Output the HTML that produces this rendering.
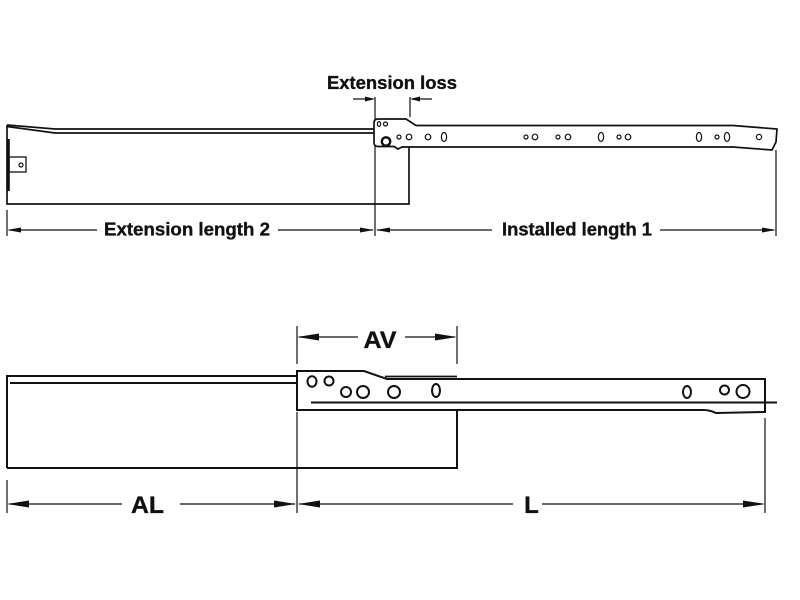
<!DOCTYPE html>
<html><head><meta charset="utf-8"><style>
html,body{margin:0;padding:0;background:#fff;}
svg{display:block;}
text{font-family:"Liberation Sans",Arial,sans-serif;font-weight:bold;fill:#111;stroke:#111;stroke-width:0.35;}
</style></head><body>
<svg width="800" height="600" viewBox="0 0 800 600" xmlns="http://www.w3.org/2000/svg">
<rect width="800" height="600" fill="#fff"/>
<!-- ===== TOP DIAGRAM ===== -->
<g stroke="#111" fill="none" stroke-width="1.2">
  <line x1="7" y1="210" x2="7" y2="236"/>
  <line x1="375" y1="97" x2="375" y2="236"/>
  <line x1="410" y1="97" x2="410" y2="117"/>
  <line x1="776" y1="150" x2="776" y2="236"/>
  <line x1="9" y1="230" x2="97" y2="230"/>
  <line x1="278" y1="230" x2="373" y2="230"/>
  <line x1="377" y1="230" x2="492" y2="230"/>
  <line x1="660" y1="230" x2="774" y2="230"/>
  <line x1="353" y1="99" x2="373" y2="99"/>
  <line x1="412" y1="99" x2="432" y2="99"/>
</g>
<g fill="#111">
  <polygon points="7,230 21,227.5 21,232.5"/>
  <polygon points="374,230 360,227.5 360,232.5"/>
  <polygon points="376,230 390,227.5 390,232.5"/>
  <polygon points="776,230 762,227.5 762,232.5"/>
  <polygon points="375,99 365,96.5 365,101.5"/>
  <polygon points="410,99 420,96.5 420,101.5"/>
</g>
<g stroke="#111" fill="none" stroke-width="1.7">
  <path d="M7,125 L7,204 L409,204 L409,146"/>
  <path d="M7,125 L55,129 L376,129"/>
  <path d="M7,126.5 L55,133 L376,133"/>
  <rect x="9" y="157" width="17" height="15" stroke-width="1.3"/>
  <circle cx="21" cy="165" r="2" stroke-width="1.2"/>
</g>
<rect x="7" y="139" width="2.8" height="52" fill="#111"/>
<path d="M378,119 L406,119 L416,125.5 L733,125.5 L777,129 L776,142 L772,150 L733,147 L402,147 L398,149 L394,146.5 L378,146.5 Q374,146.5 374,142.5 L374,123 Q374,119 378,119 Z" fill="#fff" stroke="#111" stroke-width="1.7"/>
<g stroke="#111" fill="none" stroke-width="1.2">
  <ellipse cx="379" cy="124" rx="1.6" ry="2.4"/>
  <circle cx="385.5" cy="124" r="2"/>
  <circle cx="399" cy="137" r="2"/>
  <circle cx="409" cy="137" r="2.8"/>
  <circle cx="428" cy="137" r="2.8"/>
  <ellipse cx="444" cy="137" rx="2.6" ry="4.5"/>
  <circle cx="526" cy="137" r="2"/>
  <circle cx="535" cy="137" r="2.8"/>
  <circle cx="558" cy="137" r="2"/>
  <circle cx="568" cy="137" r="2.8"/>
  <ellipse cx="601" cy="137" rx="2.6" ry="4.5"/>
  <circle cx="619" cy="137" r="2"/>
  <circle cx="628" cy="137" r="2.8"/>
  <ellipse cx="699" cy="137" rx="2.6" ry="4.5"/>
  <circle cx="717" cy="137" r="2"/>
  <ellipse cx="727" cy="137" rx="2.6" ry="4.5"/>
  <circle cx="759" cy="137" r="2.6"/>
</g>
<circle cx="386" cy="141.5" r="4.2" fill="none" stroke="#111" stroke-width="2.4"/>
<text x="392" y="89" font-size="18" text-anchor="middle" textLength="130" lengthAdjust="spacingAndGlyphs">Extension loss</text>
<text x="187" y="235.5" font-size="18" text-anchor="middle" textLength="166" lengthAdjust="spacingAndGlyphs">Extension length 2</text>
<text x="577" y="235.5" font-size="18" text-anchor="middle" textLength="150" lengthAdjust="spacingAndGlyphs">Installed length 1</text>

<!-- ===== BOTTOM DIAGRAM ===== -->
<g stroke="#111" fill="none" stroke-width="1.2">
  <line x1="297" y1="326" x2="297" y2="364"/>
  <line x1="457" y1="326" x2="457" y2="364"/>
  <line x1="297" y1="412" x2="297" y2="513"/>
  <line x1="7" y1="480" x2="7" y2="513"/>
  <line x1="765" y1="418" x2="765" y2="513"/>
  <line x1="299" y1="337" x2="358" y2="337"/>
  <line x1="405" y1="337" x2="455" y2="337"/>
  <line x1="9" y1="504" x2="122" y2="504"/>
  <line x1="180" y1="504" x2="295" y2="504"/>
  <line x1="299" y1="504" x2="513" y2="504"/>
  <line x1="542" y1="504" x2="763" y2="504"/>
</g>
<g fill="#111">
  <polygon points="297,337 319,333.5 319,340.5"/>
  <polygon points="457,337 435,333.5 435,340.5"/>
  <polygon points="7,504 29,500.5 29,507.5"/>
  <polygon points="296,504 274,500.5 274,507.5"/>
  <polygon points="298,504 320,500.5 320,507.5"/>
  <polygon points="765,504 743,500.5 743,507.5"/>
</g>
<g stroke="#111" fill="none" stroke-width="2">
  <path d="M7,468 L7,376 L298,376"/>
  <path d="M10,383 L298,383"/>
  <path d="M7,468 L457,468 L457,409"/>
</g>
<path d="M297,371 L364,371 L387,379 L765,379 L765,412 L716,413 Q710,410 703,410 L297,410 Z" fill="#fff" stroke="#111" stroke-width="2"/>
<line x1="385" y1="376.5" x2="457" y2="376.5" stroke="#111" stroke-width="1.8"/>
<line x1="311" y1="402.5" x2="777" y2="402.5" stroke="#111" stroke-width="2"/>
<g stroke="#111" fill="none" stroke-width="2">
  <ellipse cx="312" cy="381.5" rx="4.5" ry="5.3"/>
  <circle cx="329" cy="381" r="4.5"/>
  <circle cx="346" cy="392" r="5"/>
  <circle cx="363" cy="392" r="6"/>
  <circle cx="394" cy="392" r="6"/>
  <ellipse cx="436" cy="390.5" rx="4" ry="6.5"/>
  <ellipse cx="687" cy="392" rx="4" ry="6"/>
  <circle cx="724.5" cy="390" r="4.5"/>
  <circle cx="743" cy="391.5" r="6.5"/>
</g>
<text x="380" y="348" font-size="24" text-anchor="middle" textLength="33" lengthAdjust="spacingAndGlyphs">AV</text>
<text x="147.5" y="513" font-size="24" text-anchor="middle" textLength="33" lengthAdjust="spacingAndGlyphs">AL</text>
<text x="531.5" y="513" font-size="24" text-anchor="middle">L</text>
</svg>
</body></html>
